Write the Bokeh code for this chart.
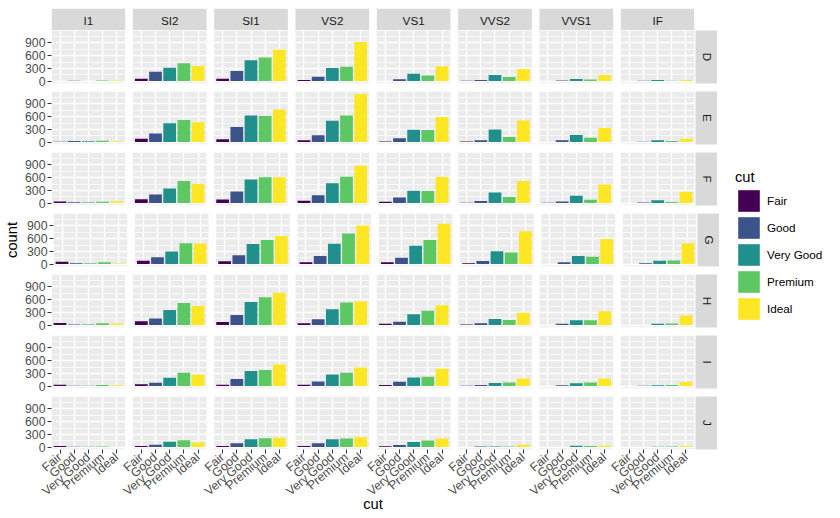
import math
from bokeh.plotting import figure
from bokeh.models import (FactorRange, Range1d, FixedTicker, CategoricalTicker,
                          ColumnDataSource, Spacer)
from bokeh.layouts import row, column
from bokeh.embed import file_html
from bokeh.resources import INLINE
from bokeh.core.properties import value

# ---------------- data ----------------
cuts = ["Fair", "Good", "Very Good", "Premium", "Ideal"]
clarities = ["I1", "SI2", "SI1", "VS2", "VS1", "VVS2", "VVS1", "IF"]
color_grades = ["D", "E", "F", "G", "H", "I", "J"]
cut_colors = ["#440154", "#3B528B", "#21908C", "#5DC863", "#FDE725"]
y_breaks = [0, 300, 600, 900]
y_minor = [150, 450, 750, 1050]

# counts per clarity (I1 .. IF), each in cut order Fair, Good, Very Good, Premium, Ideal
D = [[4, 8, 5, 12, 13], [56, 223, 314, 421, 356], [58, 237, 494, 556, 738],
     [25, 104, 309, 339, 920], [5, 43, 175, 131, 351], [9, 25, 141, 94, 284],
     [3, 13, 52, 40, 144], [3, 9, 23, 10, 28]]
E = [[9, 23, 22, 30, 18], [78, 202, 445, 519, 469], [65, 355, 626, 614, 766],
     [42, 160, 503, 629, 1136], [14, 89, 293, 285, 593], [13, 43, 298, 121, 507],
     [3, 43, 170, 105, 335], [0, 9, 43, 27, 79]]
F = [[35, 19, 13, 34, 42], [89, 201, 343, 523, 453], [83, 273, 559, 608, 608],
     [53, 184, 466, 619, 878], [33, 132, 293, 285, 616], [10, 50, 249, 146, 520],
     [7, 35, 174, 80, 440], [4, 15, 67, 24, 268]]
G = [[53, 19, 16, 46, 16], [80, 163, 299, 492, 486], [69, 207, 474, 566, 660],
     [45, 192, 479, 721, 910], [45, 152, 432, 566, 953], [17, 75, 302, 275, 774],
     [3, 41, 190, 171, 594], [3, 22, 79, 87, 491]]
H = [[52, 14, 12, 46, 38], [91, 158, 354, 521, 450], [75, 235, 547, 655, 763],
     [41, 138, 376, 532, 556], [32, 77, 257, 336, 467], [11, 45, 145, 118, 289],
     [1, 31, 115, 112, 326], [0, 4, 29, 40, 226]]
I = [[34, 9, 8, 24, 17], [45, 81, 195, 312, 274], [30, 165, 358, 380, 507],
     [32, 110, 274, 315, 438], [25, 103, 205, 221, 408], [8, 26, 71, 82, 178],
     [1, 22, 69, 84, 179], [2, 6, 19, 23, 95]]
J = [[23, 8, 8, 13, 2], [27, 53, 128, 161, 110], [28, 88, 182, 209, 221],
     [23, 90, 184, 202, 232], [19, 52, 120, 153, 201], [1, 13, 12, 15, 54],
     [1, 1, 29, 24, 29], [0, 2, 8, 12, 25]]

counts = {"D": D, "E": E, "F": F, "G": G, "H": H, "I": I, "J": J}

# ---------------- style / layout ----------------
FONT = "Liberation Sans"
SMALL = "11.7px"
TICK = "12.3px"
BIG = "14.7px"
TOTAL_H = 518
LEFT = 51             # room for the y title and tick labels
W = 643               # width of the panel area (8 panels)
PANEL_PX = 73.7       # width of one panel
FH = 53               # panel height
STRIP = 22
ROWGAP = 8
TOPPAD = 8
PAD = 0.1             # ggplot's discrete expansion (0.6 - 0.5)
PANEL_UNITS = len(cuts) + 2 * PAD
unit_px = PANEL_PX / PANEL_UNITS
group_pad = (W / unit_px - (len(cuts) * len(clarities) + 2 * PAD)) / (len(clarities) - 1)
MIDDLE_ROW = len(color_grades) // 2

ymax = max(max(max(v) for v in grid) for grid in counts.values())
y_lo, y_hi = -0.05 * ymax, 1.05 * ymax


def xrange_():
    return FactorRange(factors=[(c, k) for c in clarities for k in cuts],
                       group_padding=group_pad, factor_padding=0,
                       range_padding=PAD, range_padding_units="absolute")


def base_fig(**kw):
    p = figure(output_backend="svg", toolbar_location=None, tools="", title=None, **kw)
    p.outline_line_color = None
    p.border_fill_color = "white"
    p.background_fill_color = "white"
    return p


# ---- top strip (clarity) ----
top = base_fig(frame_width=W, frame_height=STRIP, x_range=xrange_(), y_range=Range1d(0, 1),
               x_axis_location=None, y_axis_location=None,
               min_border_left=LEFT, min_border_right=1, min_border_top=TOPPAD, min_border_bottom=0)
top.xgrid.visible = False
top.ygrid.visible = False
tsrc = ColumnDataSource(dict(clar=clarities))
top.vbar(x="clar", width=PANEL_UNITS, bottom=0, top=1, source=tsrc,
         fill_color="#D9D9D9", line_color=None)
top.text(x="clar", y=0.45, text="clar", source=tsrc, text_align="center", text_baseline="middle",
         text_font=value(FONT), text_font_size=value(SMALL), text_color="#1A1A1A")
top_row = row(top, Spacer(width=STRIP, height=STRIP + TOPPAD))


def strip_right(label):
    s = base_fig(frame_width=STRIP, frame_height=FH, x_range=Range1d(0, 1), y_range=Range1d(0, 1),
                 x_axis_type=None, y_axis_type=None,
                 min_border_left=0, min_border_right=0, min_border_top=0, min_border_bottom=ROWGAP)
    s.background_fill_color = "#D9D9D9"
    src = ColumnDataSource(dict(t=[label]))
    s.text(x=0.55, y=0.5, text="t", source=src, text_align="center", text_baseline="middle",
           angle=-math.pi / 2, text_font=value(FONT), text_font_size=value(SMALL),
           text_color="#1A1A1A")
    return s


def panel_row(ri, grade):
    last = ri == len(color_grades) - 1
    xs, ys, cs = [], [], []
    for ci, clar in enumerate(clarities):
        for k, cut in enumerate(cuts):
            v = counts[grade][ci][k]
            if v > 0:
                xs.append((clar, cut))
                ys.append(v)
                cs.append(cut_colors[k])
    src = ColumnDataSource(dict(x=xs, count=ys, color=cs))
    p = base_fig(frame_width=W, frame_height=FH, x_range=xrange_(), y_range=Range1d(y_lo, y_hi),
                 x_axis_location="below" if last else None, y_axis_location="left",
                 min_border_left=LEFT, min_border_right=1, min_border_top=0,
                 min_border_bottom=0 if last else ROWGAP)
    # panel backgrounds, one per clarity
    bg = p.vbar(x="clar", width=PANEL_UNITS, bottom=y_lo, top=y_hi,
                source=ColumnDataSource(dict(clar=clarities)),
                fill_color="#EBEBEB", line_color=None)
    bg.level = "image"
    p.xgrid.ticker = CategoricalTicker()
    p.ygrid.ticker = FixedTicker(ticks=y_breaks, minor_ticks=y_minor)
    p.xgrid.grid_line_color = "white"
    p.xgrid.grid_line_width = 1.4
    p.ygrid.grid_line_color = "white"
    p.ygrid.grid_line_width = 1.4
    p.ygrid.minor_grid_line_color = "white"
    p.ygrid.minor_grid_line_width = 0.7
    p.vbar(x="x", top="count", bottom=0, width=0.9, fill_color="color", line_color=None, source=src)

    ax = p.yaxis[0]
    ax.ticker = FixedTicker(ticks=y_breaks, minor_ticks=y_minor)
    ax.axis_line_color = None
    ax.minor_tick_line_color = None
    ax.major_tick_in = 0
    ax.major_tick_out = 4
    ax.major_tick_line_color = "#333333"
    ax.major_label_standoff = 2
    ax.major_label_text_font = FONT
    ax.major_label_text_font_size = TICK
    ax.major_label_text_color = "#4D4D4D"
    if ri == MIDDLE_ROW:
        ax.axis_label = "count"
        ax.axis_label_standoff = 4
        ax.axis_label_text_font = FONT
        ax.axis_label_text_font_size = BIG
        ax.axis_label_text_font_style = "normal"
        ax.axis_label_text_color = "black"
    if last:
        ax = p.xaxis[0]
        ax.axis_line_color = None
        ax.separator_line_color = None
        ax.group_text_color = None
        ax.group_text_font_size = "1px"
        ax.major_tick_in = 0
        ax.major_tick_out = 4
        ax.major_tick_line_color = "#333333"
        ax.major_label_standoff = 2
        ax.major_label_orientation = math.radians(40)
        ax.major_label_text_font = FONT
        ax.major_label_text_font_size = TICK
        ax.major_label_text_color = "#4D4D4D"
        ax.axis_label = "cut"
        ax.axis_label_standoff = -11
        ax.axis_label_text_font = FONT
        ax.axis_label_text_font_size = BIG
        ax.axis_label_text_font_style = "normal"
        ax.axis_label_text_color = "black"
    return row(p, strip_right(grade))


panel_rows = [panel_row(ri, g) for ri, g in enumerate(color_grades)]

col_w = LEFT + W + 1 + STRIP
LEG_W = 840 - col_w
LEG_L, LEG_T = 16, 169
leg_fig = base_fig(frame_width=LEG_W - LEG_L, frame_height=TOTAL_H - LEG_T,
                   x_range=FactorRange(factors=cuts), y_range=Range1d(0, 1),
                   x_axis_type=None, y_axis_type=None,
                   min_border_left=LEG_L, min_border_top=LEG_T, min_border_right=0, min_border_bottom=0)
leg_fig.xgrid.visible = False
leg_fig.ygrid.visible = False
lsrc = ColumnDataSource(dict(cut=cuts, color=cut_colors))
leg_fig.vbar(x="cut", top=0, bottom=0, width=0.9, fill_color="color", line_color=None,
             source=lsrc, legend_field="cut")
lg = leg_fig.legend[0]
lg.location = "top_left"
lg.title = "cut"
lg.margin = 0
lg.padding = 0
lg.glyph_width = 27
lg.glyph_height = 27
lg.spacing = -4
lg.label_standoff = 5
lg.title_standoff = 2
lg.border_line_color = None
lg.background_fill_alpha = 0
lg.title_text_font = FONT
lg.title_text_font_size = BIG
lg.title_text_font_style = "normal"
lg.title_text_color = "black"
lg.label_text_font = FONT
lg.label_text_font_size = SMALL
lg.label_text_color = "black"

layout = row(column([top_row] + panel_rows), leg_fig)

open("out.html", "w").write(file_html(layout, INLINE))
